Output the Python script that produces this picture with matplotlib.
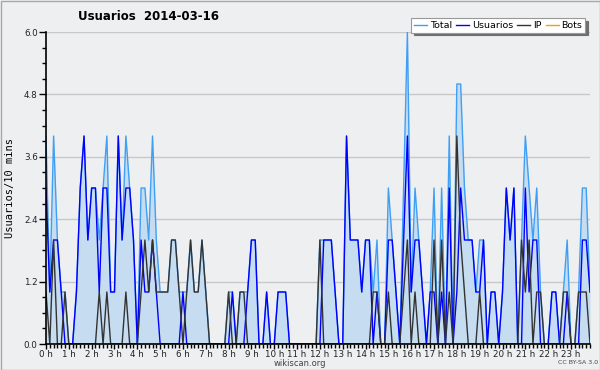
import numpy as np
import matplotlib
matplotlib.use('Agg')
import matplotlib.pyplot as plt
from matplotlib.patches import Rectangle

# ---- data: editors per 10 minute slot, 2014-03-16 ----
total = [4, 1, 4, 2, 1, 1, 0, 0, 1, 3, 4, 2, 3, 3, 2, 3, 4, 1, 1, 4, 2, 4, 3, 2,
         0, 3, 3, 2, 4, 2, 1, 1, 1, 2, 2, 1, 1, 1, 2, 1, 1, 2, 1, 0, 0, 0, 0, 0,
         1, 1, 0, 1, 1, 1, 2, 2, 0, 0, 1, 0, 0, 1, 1, 1, 0, 0, 0, 0, 0, 0, 0, 0,
         2, 2, 2, 2, 1, 0, 0, 4, 2, 2, 2, 1, 2, 2, 1, 2, 0, 0, 3, 2, 1, 0, 3, 6,
         1, 3, 2, 1, 0, 1, 3, 0, 3, 0, 4, 0, 5, 5, 3, 2, 2, 1, 2, 2, 0, 1, 1, 0,
         1, 3, 2, 3, 0, 2, 4, 3, 2, 3, 1, 0, 0, 1, 1, 0, 1, 2, 0, 0, 1, 3, 3, 1]

usuarios = [3, 1, 2, 2, 1, 0, 0, 0, 1, 3, 4, 2, 3, 3, 1, 3, 3, 1, 1, 4, 2, 3, 3, 2,
            0, 2, 1, 1, 2, 1, 0, 0, 0, 0, 0, 0, 1, 0, 0, 0, 0, 0, 0, 0, 0, 0, 0, 0,
            0, 1, 0, 0, 0, 1, 2, 2, 0, 0, 1, 0, 0, 1, 1, 1, 0, 0, 0, 0, 0, 0, 0, 0,
            0, 2, 2, 2, 1, 0, 0, 4, 2, 2, 2, 1, 2, 2, 0, 1, 0, 0, 2, 2, 1, 0, 2, 4,
            1, 2, 2, 1, 0, 1, 1, 0, 1, 0, 3, 0, 1, 3, 2, 2, 2, 1, 1, 2, 0, 1, 1, 0,
            1, 3, 2, 3, 0, 0, 3, 1, 2, 2, 0, 0, 0, 1, 1, 0, 0, 1, 0, 0, 0, 2, 2, 1]

ip = [1, 0, 2, 0, 0, 1, 0, 0, 0, 0, 0, 0, 0, 0, 1, 0, 1, 0, 0, 0, 0, 1, 0, 0,
      0, 1, 2, 1, 2, 1, 1, 1, 1, 2, 2, 1, 0, 1, 2, 1, 1, 2, 1, 0, 0, 0, 0, 0,
      1, 0, 0, 1, 1, 0, 0, 0, 0, 0, 0, 0, 0, 0, 0, 0, 0, 0, 0, 0, 0, 0, 0, 0,
      2, 0, 0, 0, 0, 0, 0, 0, 0, 0, 0, 0, 0, 0, 1, 1, 0, 0, 1, 0, 0, 0, 1, 2,
      0, 1, 0, 0, 0, 0, 2, 0, 2, 0, 1, 0, 4, 2, 1, 0, 0, 0, 1, 0, 0, 0, 0, 0,
      0, 0, 0, 0, 0, 2, 1, 2, 0, 1, 1, 0, 0, 0, 0, 0, 1, 1, 0, 0, 1, 1, 1, 0]

bots = [0, 0, 0, 0, 0, 0, 0, 0, 0, 0, 0, 0, 0, 0, 0, 0, 0, 0, 0, 0, 0, 0, 0, 0,
        0, 0, 0, 0, 0, 0, 0, 0, 0, 0, 0, 0, 0, 0, 0, 0, 0, 0, 0, 0, 0, 0, 0, 0,
        0, 0, 0, 0, 0, 0, 0, 0, 0, 0, 0, 0, 0, 0, 0, 0, 0, 0, 0, 0, 0, 0, 0, 0,
        0, 0, 0, 0, 0, 0, 0, 0, 0, 0, 0, 0, 0, 0, 0, 0, 0, 0, 0, 0, 0, 0, 0, 0,
        0, 0, 0, 0, 0, 0, 0, 0, 0, 0, 0, 0, 0, 0, 0, 0, 0, 0, 0, 0, 0, 0, 0, 0,
        0, 0, 0, 0, 0, 0, 0, 0, 0, 0, 0, 0, 0, 0, 0, 0, 0, 0, 0, 0, 0, 0, 0, 0]

hour_labels = ['0 h', '1 h', '2 h', '3 h', '4 h', '5 h', '6 h', '7 h',
               '8 h', '9 h', '10 h', '11 h', '12 h', '13 h', '14 h', '15 h',
               '16 h', '17 h', '18 h', '19 h', '20 h', '21 h', '22 h', '23 h']
y_ticks = [0.0, 1.2, 2.4, 3.6, 4.8, 6.0]

bg = '#eeeff1'
W, H = 600.0, 370.0

x = np.arange(len(total))

fig = plt.figure(figsize=(6, 3.7), dpi=100, facecolor=bg)
ax = fig.add_axes([46 / W, 26 / H, 544 / W, 312 / H])
ax.set_facecolor(bg)

ax.fill_between(x, 0, total, color='#c6dcf0', lw=0, zorder=1)
ax.plot(x, total, color='#3f9ff5', lw=1.0, label='Total', zorder=2)
ax.plot(x, usuarios, color='#0000ff', lw=1.0, label='Usuarios', zorder=3)
ax.plot(x, ip, color='#333333', lw=1.0, label='IP', zorder=4)
ax.plot(x, bots, color='#ff9900', lw=1.0, label='Bots', zorder=1.5)

ax.set_xlim(0, len(total) - 1)
ax.set_ylim(0, 6)

# x axis: one tick per hour, minor every 10 min
ax.set_xticks(np.arange(0, len(total), 6))
ax.set_xticklabels(hour_labels)
ax.set_xticks(x, minor=True)
# y axis
ax.set_yticks(y_ticks)
ax.set_yticklabels(['%.1f' % v for v in y_ticks])
ax.set_yticks(np.arange(0, 6.01, 0.3), minor=True)

ax.tick_params(axis='both', which='both', direction='out', color='black',
               labelsize=6.3, labelcolor='#222222', width=1)
ax.tick_params(axis='x', which='major', length=3.5, pad=0.5)
ax.tick_params(axis='x', which='minor', length=3)
ax.tick_params(axis='y', which='major', length=5, pad=1)
ax.tick_params(axis='y', which='minor', length=3)

ax.grid(axis='y', which='major', color='#c8c8c8', lw=1)
ax.set_axisbelow(True)
for s in ['top', 'right']:
    ax.spines[s].set_visible(False)
for s in ['left', 'bottom']:
    ax.spines[s].set_zorder(10)
    ax.spines[s].set_linewidth(1.2)

leg = ax.legend(loc='upper right', bbox_to_anchor=(1.0, 1.06), ncol=4,
                fontsize=6.8, handlelength=1.4, handletextpad=0.3,
                columnspacing=0.4, borderpad=0.3, fancybox=False,
                framealpha=1, edgecolor='#999999', facecolor='white',
                shadow={'color': '#6e6e6e', 'alpha': 1})
leg.get_frame().set_linewidth(0.8)

fig.text(148 / W, 1 - 16 / H, 'Usuarios  2014-03-16', ha='center', va='center',
         fontsize=8.5, fontweight='bold')
fig.text(10 / W, 1 - 188 / H, 'Usuarios/10 mins', rotation=90, ha='center',
         va='center', fontsize=7.5, family='DejaVu Sans Mono')
fig.text(300 / W, 1 - 363 / H, 'wikiscan.org', ha='center', va='center',
         fontsize=6, color='#444444')
fig.text(578 / W, 1 - 362 / H, 'CC BY-SA 3.0', ha='center', va='center',
         fontsize=4.5, color='#444444')

# thin grey frame round the picture
fig.patches.append(Rectangle((0.5 / W, 0.5 / H), 1 - 1 / W, 1 - 1 / H,
                             transform=fig.transFigure, fill=False,
                             edgecolor='#a8a8a8', lw=1))

fig.savefig('out.png', dpi=100, facecolor=bg)
